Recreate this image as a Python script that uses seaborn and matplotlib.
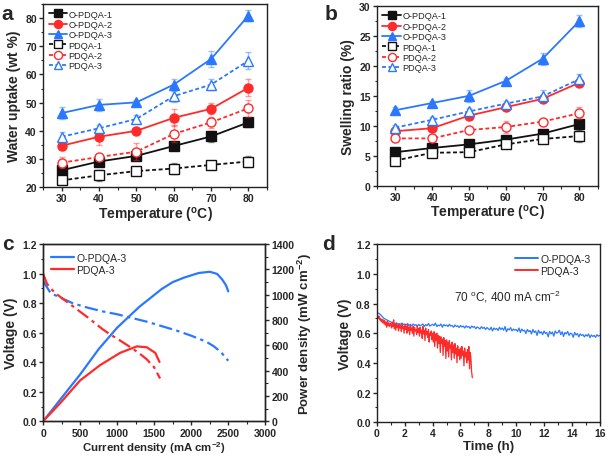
import numpy as np
import pandas as pd
import matplotlib
matplotlib.use('Agg')
import matplotlib.pyplot as plt
import seaborn as sns
from matplotlib.ticker import MultipleLocator

# ---- panel a / b data ----
temps = [30, 40, 50, 60, 70, 80]
names = ['O-PDQA-1', 'O-PDQA-2', 'O-PDQA-3', 'PDQA-1', 'PDQA-2', 'PDQA-3']

uptake_o1 = [26.0, 29.1, 31.1, 34.6, 38.0, 43.0]
uptake_o2 = [34.7, 37.9, 40.0, 44.6, 47.8, 55.3]
uptake_o3 = [46.3, 49.2, 50.1, 56.4, 65.5, 80.9]
uptake_p1 = [22.4, 24.2, 25.7, 26.6, 27.9, 29.1]
uptake_p2 = [28.7, 30.7, 32.6, 38.9, 43.0, 48.0]
uptake_p3 = [37.9, 40.9, 44.2, 52.3, 56.4, 64.9]
uptake_err_o1 = [1.0, 1.0, 1.5, 1.0, 2.0, 1.5]
uptake_err_o2 = [1.5, 3.0, 1.0, 3.0, 2.0, 3.0]
uptake_err_o3 = [2.0, 2.0, 1.0, 2.0, 3.0, 2.0]
uptake_err_p1 = [1.0, 2.0, 1.0, 2.0, 1.0, 2.0]
uptake_err_p2 = [2.0, 1.0, 3.0, 3.0, 2.0, 3.0]
uptake_err_p3 = [1.5, 1.0, 1.5, 2.0, 2.0, 3.0]

swell_o1 = [5.6, 6.3, 6.9, 7.7, 8.7, 10.3]
swell_o2 = [9.1, 9.6, 11.7, 13.1, 14.5, 17.2]
swell_o3 = [12.6, 13.8, 15.0, 17.5, 21.2, 27.5]
swell_p1 = [4.2, 5.5, 5.6, 6.9, 7.8, 8.3]
swell_p2 = [7.9, 7.9, 9.3, 9.8, 10.7, 12.1]
swell_p3 = [9.7, 11.0, 12.4, 13.7, 14.9, 17.8]
swell_err_o1 = [0.4, 0.4, 0.4, 0.5, 0.5, 0.8]
swell_err_o2 = [0.5, 0.5, 0.6, 0.5, 0.5, 0.5]
swell_err_o3 = [0.5, 0.4, 1.0, 0.4, 1.0, 1.0]
swell_err_p1 = [0.4, 0.4, 0.5, 0.5, 0.5, 1.0]
swell_err_p2 = [0.4, 0.5, 0.5, 1.0, 0.5, 1.0]
swell_err_p3 = [0.5, 0.5, 0.5, 0.5, 1.0, 0.8]

# ---- panel c data ----
cur_o3_v = [0, 50, 100, 200, 400, 600, 800, 1000, 1200, 1400, 1600, 1800, 2000, 2200, 2300, 2400, 2500]
volt_o3 = [0.95, 0.91, 0.87, 0.845, 0.80, 0.77, 0.745, 0.725, 0.70, 0.675, 0.645, 0.615, 0.58, 0.54, 0.51, 0.47, 0.41]
cur_o3_p = [0, 250, 500, 750, 1000, 1300, 1600, 1750, 1900, 2100, 2250, 2350, 2420, 2470, 2500]
power_o3 = [0, 185, 370, 570, 740, 905, 1045, 1100, 1135, 1172, 1182, 1165, 1120, 1075, 1027]
cur_p3_v = [0, 50, 100, 200, 400, 600, 800, 900, 1000, 1200, 1300, 1400, 1500, 1580]
volt_p3 = [1.0, 0.935, 0.90, 0.855, 0.78, 0.705, 0.625, 0.59, 0.56, 0.495, 0.46, 0.42, 0.365, 0.29]
cur_p3_p = [0, 230, 500, 770, 1040, 1266, 1400, 1514, 1572]
power_p3 = [0, 143, 323, 444, 541, 592, 585, 541, 469]

# ---- panel d data (durability at 400 mA cm-2) ----
dur_o3 = [
    0.74, 0.735, 0.73, 0.72, 0.71, 0.70, 0.695, 0.69, 0.685, 0.68,
    0.675, 0.67, 0.668, 0.665, 0.67, 0.66, 0.665, 0.66, 0.668, 0.658,
    0.662, 0.655, 0.665, 0.65, 0.66, 0.648, 0.662, 0.652, 0.658, 0.645,
    0.66, 0.65, 0.655, 0.662, 0.645, 0.658, 0.65, 0.665, 0.648, 0.655,
    0.66, 0.652, 0.668, 0.645, 0.655, 0.65, 0.662, 0.64, 0.658, 0.65,
    0.655, 0.645, 0.66, 0.648, 0.652, 0.64, 0.655, 0.645, 0.65, 0.638,
    0.652, 0.642, 0.648, 0.635, 0.65, 0.64, 0.645, 0.632, 0.648, 0.64,
    0.645, 0.63, 0.642, 0.636, 0.628, 0.644, 0.632, 0.64, 0.625, 0.638,
    0.63, 0.622, 0.64, 0.615, 0.635, 0.625, 0.632, 0.618, 0.64, 0.625,
    0.635, 0.62, 0.645, 0.61, 0.63, 0.622, 0.638, 0.615, 0.628, 0.62,
    0.625, 0.612, 0.635, 0.605, 0.628, 0.615, 0.62, 0.598, 0.625, 0.61,
    0.618, 0.595, 0.625, 0.605, 0.615, 0.585, 0.62, 0.60, 0.61, 0.59,
    0.615, 0.598, 0.605, 0.575, 0.612, 0.595, 0.608, 0.58, 0.615, 0.60,
    0.605, 0.62, 0.59, 0.61, 0.578, 0.605, 0.595, 0.612, 0.585, 0.60,
    0.595, 0.572, 0.605, 0.588, 0.598, 0.575, 0.595, 0.585, 0.59, 0.575,
    0.59, 0.58, 0.595, 0.57, 0.588, 0.578, 0.585, 0.572, 0.59, 0.58,
    0.585,
]
dur_p3 = [
    0.72, 0.71, 0.70, 0.715, 0.69, 0.70, 0.68, 0.695, 0.67, 0.69,
    0.665, 0.685, 0.655, 0.675, 0.64, 0.68, 0.65, 0.67, 0.645, 0.665,
    0.66, 0.635, 0.675, 0.645, 0.69, 0.63, 0.66, 0.62, 0.665, 0.64,
    0.655, 0.615, 0.66, 0.635, 0.65, 0.61, 0.66, 0.63, 0.645, 0.60,
    0.655, 0.625, 0.645, 0.60, 0.66, 0.615, 0.64, 0.59, 0.65, 0.62,
    0.635, 0.60, 0.645, 0.58, 0.64, 0.615, 0.625, 0.59, 0.65, 0.605,
    0.63, 0.58, 0.64, 0.60, 0.62, 0.565, 0.645, 0.595, 0.62, 0.55,
    0.635, 0.59, 0.61, 0.57, 0.625, 0.54, 0.60, 0.585, 0.615, 0.555,
    0.60, 0.54, 0.61, 0.51, 0.595, 0.55, 0.60, 0.50, 0.585, 0.53,
    0.58, 0.47, 0.575, 0.53, 0.56, 0.45, 0.57, 0.51, 0.55, 0.43,
    0.555, 0.48, 0.54, 0.44, 0.55, 0.50, 0.52, 0.42, 0.54, 0.47,
    0.52, 0.43, 0.53, 0.46, 0.50, 0.40, 0.515, 0.45, 0.49, 0.42,
    0.50, 0.43, 0.51, 0.45, 0.48, 0.38, 0.50, 0.44, 0.47, 0.40,
    0.49, 0.42, 0.51, 0.36, 0.47, 0.43, 0.34, 0.30,
]
time_o3 = np.arange(len(dur_o3)) * 0.1
time_p3 = np.arange(len(dur_p3)) * 0.05

BLUE = '#2a78ff'
RED = '#ff2a2a'
BLACK = '#111111'
styles = {
    'O-PDQA-1': (BLACK, 's', True),
    'O-PDQA-2': (RED, 'o', True),
    'O-PDQA-3': (BLUE, '^', True),
    'PDQA-1': (BLACK, 's', False),
    'PDQA-2': (RED, 'o', False),
    'PDQA-3': (BLUE, '^', False),
}

sns.set_style('ticks')
plt.rcParams['font.family'] = ['Liberation Sans', 'DejaVu Sans']
plt.rcParams['mathtext.fontset'] = 'custom'
plt.rcParams['mathtext.rm'] = 'Liberation Sans'
plt.rcParams['mathtext.bf'] = 'Liberation Sans:bold'
plt.rcParams['axes.linewidth'] = 1.0


def style_axis(ax):
    ax.tick_params(which='major', direction='out', length=3, width=1, labelsize=7.5, pad=1.5)
    ax.tick_params(which='minor', direction='out', length=1.8, width=0.8)
    for lab in ax.get_xticklabels() + ax.get_yticklabels():
        lab.set_fontweight('bold')
    for sp in ax.spines.values():
        sp.set_visible(True)
        sp.set_color('#222222')


def temp_panel(ax, values, errors, ylabel, ylim, ystep):
    for name in names:
        color, marker, filled = styles[name]
        ls = '-' if filled else (0, (2.2, 1.4))
        ax.errorbar(temps, values[name], yerr=errors[name], fmt='none', ecolor=color,
                    alpha=0.45, capsize=2.5, elinewidth=1, capthick=1)
        sns.lineplot(x=temps, y=values[name], ax=ax, color=color, marker=marker,
                     markersize=6.5, linestyle=ls, linewidth=1.3,
                     markerfacecolor=color if filled else 'white',
                     markeredgecolor=color, markeredgewidth=1.0, label=name)
    ax.set_xlim(25, 85)
    ax.set_ylim(*ylim)
    ax.xaxis.set_major_locator(MultipleLocator(10))
    ax.xaxis.set_minor_locator(MultipleLocator(5))
    ax.yaxis.set_major_locator(MultipleLocator(ystep))
    ax.yaxis.set_minor_locator(MultipleLocator(ystep / 2))
    ax.set_xlabel('Temperature ($\\mathregular{^{o}}$C)', fontsize=10, fontweight='bold', labelpad=1)
    ax.set_ylabel(ylabel, fontsize=10, fontweight='bold', labelpad=3)
    ax.legend(loc='upper left', frameon=False, fontsize=6.6, handlelength=2.0,
              handletextpad=0.15, labelspacing=0.15, borderaxespad=0.3, borderpad=0.3,
              markerscale=0.9)
    style_axis(ax)


fig = plt.figure(figsize=(6.07, 4.60), dpi=100)
ax_a = fig.add_axes([0.071, 0.591, 0.369, 0.398])
ax_b = fig.add_axes([0.621, 0.594, 0.364, 0.391])
ax_c = fig.add_axes([0.071, 0.082, 0.366, 0.385])
ax_d = fig.add_axes([0.621, 0.080, 0.367, 0.387])

uptake = dict(zip(names, [uptake_o1, uptake_o2, uptake_o3, uptake_p1, uptake_p2, uptake_p3]))
uptake_err = dict(zip(names, [uptake_err_o1, uptake_err_o2, uptake_err_o3,
                              uptake_err_p1, uptake_err_p2, uptake_err_p3]))
swell = dict(zip(names, [swell_o1, swell_o2, swell_o3, swell_p1, swell_p2, swell_p3]))
swell_err = dict(zip(names, [swell_err_o1, swell_err_o2, swell_err_o3,
                             swell_err_p1, swell_err_p2, swell_err_p3]))

temp_panel(ax_a, uptake, uptake_err, 'Water uptake (wt %)', (20, 85), 10)
temp_panel(ax_b, swell, swell_err, 'Swelling ratio (%)', (0, 30), 5)

# ---- panel c: polarisation & power density ----
dashdot = (0, (6, 2, 1.5, 2))
sns.lineplot(x=cur_o3_v, y=volt_o3, ax=ax_c, color=BLUE, linestyle=dashdot, linewidth=1.6)
sns.lineplot(x=cur_p3_v, y=volt_p3, ax=ax_c, color=RED, linestyle=dashdot, linewidth=1.6)
ax_c2 = ax_c.twinx()
sns.lineplot(x=cur_o3_p, y=power_o3, ax=ax_c2, color=BLUE, linewidth=1.6, label='O-PDQA-3')
sns.lineplot(x=cur_p3_p, y=power_p3, ax=ax_c2, color=RED, linewidth=1.6, label='PDQA-3')
ax_c.set_xlim(0, 3000)
ax_c.set_ylim(0, 1.2)
ax_c2.set_ylim(0, 1400)
ax_c.xaxis.set_major_locator(MultipleLocator(500))
ax_c.xaxis.set_minor_locator(MultipleLocator(250))
ax_c.yaxis.set_major_locator(MultipleLocator(0.2))
ax_c.yaxis.set_minor_locator(MultipleLocator(0.1))
ax_c2.yaxis.set_major_locator(MultipleLocator(200))
ax_c2.yaxis.set_minor_locator(MultipleLocator(100))
ax_c.set_xlabel('Current density (mA cm$\\mathregular{^{-2}}$)', fontsize=8.2, fontweight='bold', labelpad=1)
ax_c.set_ylabel('Voltage (V)', fontsize=10, fontweight='bold', labelpad=3)
ax_c2.set_ylabel('Power density (mW cm$\\mathregular{^{-2}}$)', fontsize=9.5, fontweight='bold', labelpad=1)
ax_c2.legend(loc='upper left', frameon=False, fontsize=7.5, handlelength=2.2,
             handletextpad=0.2, labelspacing=0.2, borderaxespad=0.4)
style_axis(ax_c)
style_axis(ax_c2)

# ---- panel d: durability ----
sns.lineplot(x=time_o3, y=dur_o3, ax=ax_d, color=BLUE, linewidth=0.9, label='O-PDQA-3')
sns.lineplot(x=time_p3, y=dur_p3, ax=ax_d, color=RED, linewidth=0.9, label='PDQA-3')
ax_d.set_xlim(0, 16)
ax_d.set_ylim(0, 1.2)
ax_d.xaxis.set_major_locator(MultipleLocator(2))
ax_d.xaxis.set_minor_locator(MultipleLocator(1))
ax_d.yaxis.set_major_locator(MultipleLocator(0.2))
ax_d.yaxis.set_minor_locator(MultipleLocator(0.1))
ax_d.set_xlabel('Time (h)', fontsize=9.5, fontweight='bold', labelpad=1)
ax_d.set_ylabel('Voltage (V)', fontsize=10, fontweight='bold', labelpad=3)
leg = ax_d.legend(loc='upper right', frameon=False, fontsize=7.5, handlelength=2.2,
                  handletextpad=0.2, labelspacing=0.2, borderaxespad=0.5)
for line in leg.get_lines():
    line.set_linewidth(1.4)
ax_d.text(5.5, 0.82, '70 $\\mathregular{^{o}}$C, 400 mA cm$\\mathregular{^{-2}}$', fontsize=8.5)
style_axis(ax_d)

for letter, x, y in [('a', 0.003, 0.99), ('b', 0.535, 0.99), ('c', 0.003, 0.49), ('d', 0.530, 0.49)]:
    fig.text(x, y, letter, fontsize=15, fontweight='bold', va='top', ha='left')

fig.savefig('out.png', dpi=100)
